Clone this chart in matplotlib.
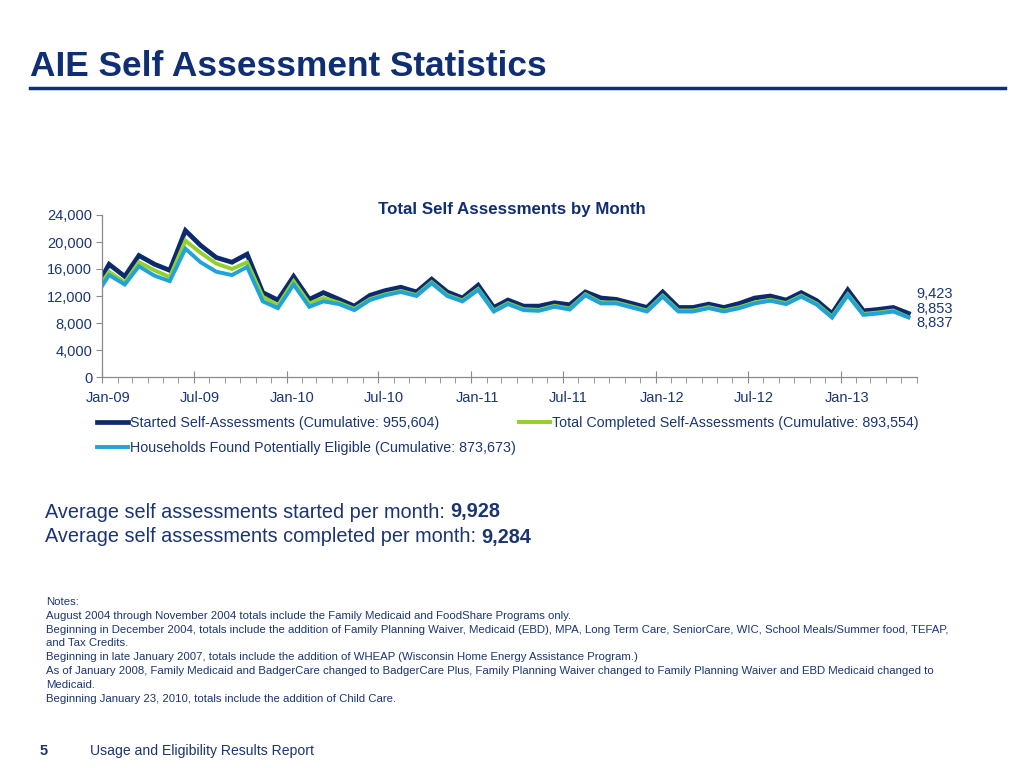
import numpy as np
import pandas as pd
import matplotlib
matplotlib.use("Agg")
import matplotlib.pyplot as plt
import matplotlib.dates as mdates
import matplotlib.transforms as mtransforms
from matplotlib.ticker import FuncFormatter, MultipleLocator

plt.rcParams['font.family'] = ['Liberation Sans', 'DejaVu Sans']

# monthly totals, Dec-08 .. May-13 (Dec-08 is clipped by the axis start)
months = pd.date_range('2008-12-01', '2013-05-01', freq='MS') + pd.Timedelta(days=14)
started = [12500, 16700, 14900, 18000, 16700, 15800, 21700, 19500, 17700, 17000, 18200, 12500, 11400,
           14900, 11500, 12500, 11500, 10500, 12100, 12800, 13300, 12600, 14500, 12600, 11700,
           13600, 10300, 11400, 10500, 10500, 11000, 10700, 12600, 11700, 11500, 10900, 10300,
           12600, 10300, 10300, 10800, 10300, 10900, 11700, 12000, 11400, 12500, 11300, 9400,
           12900, 9800, 10000, 10300, 9423]
completed = [12000, 15600, 14000, 17000, 15800, 14800, 20200, 18400, 16800, 16000, 17000, 11900, 10600,
             14200, 10900, 11700, 11000, 10100, 11550, 12250, 12750, 12150, 14050, 12150, 11350,
             13050, 9850, 10950, 10050, 9950, 10550, 10150, 12250, 11050, 11050, 10450, 9850,
             12050, 9850, 9850, 10350, 9850, 10350, 11050, 11450, 10950, 12050, 10850, 8950,
             12250, 9350, 9550, 9850, 8853]
eligible = [11500, 15100, 13700, 16400, 15000, 14200, 19000, 17000, 15600, 15100, 16300, 11200, 10200,
            13700, 10400, 11200, 10800, 9900, 11400, 12100, 12600, 12000, 13900, 12000, 11200,
            12900, 9700, 10800, 9900, 9800, 10400, 10000, 12100, 10900, 10900, 10300, 9700,
            11900, 9700, 9700, 10200, 9700, 10200, 10900, 11300, 10800, 11900, 10700, 8800,
            12100, 9200, 9400, 9700, 8837]

labels = ['Started Self-Assessments (Cumulative: 955,604)',
          'Total Completed Self-Assessments (Cumulative: 893,554)',
          'Households Found Potentially Eligible (Cumulative: 873,673)']
colors = ['#0C2A6E', '#92D02A', '#1FA3D8']

avg_labels = ['Average self assessments started per month:', 'Average self assessments completed per month:']
avg_values = ['9,928', '9,284']

notes = [
    'Notes:',
    'August 2004 through November 2004 totals include the Family Medicaid and FoodShare Programs only.',
    'Beginning in December 2004, totals include the addition of Family Planning Waiver, Medicaid (EBD), MPA, Long Term Care, SeniorCare, WIC, School Meals/Summer food, TEFAP,',
    'and Tax Credits.',
    'Beginning in late January 2007, totals include the addition of WHEAP (Wisconsin Home Energy Assistance Program.)',
    'As of January 2008, Family Medicaid and BadgerCare changed to BadgerCare Plus, Family Planning Waiver changed to Family Planning Waiver and EBD Medicaid changed to',
    'Medicaid.',
    'Beginning January 23, 2010, totals include the addition of Child Care.',
]

navy = '#1B3573'
W, H = 1024, 768
fig = plt.figure(figsize=(W / 100, H / 100), dpi=100)

# page title and rule
fig.text(30 / W, 1 - 67 / H, 'AIE Self Assessment Statistics', fontsize=25.4, fontweight='bold',
         color='#0F2E74', va='center', ha='left')
fig.add_artist(plt.Line2D([30 / W, 1005 / W], [1 - 88 / H, 1 - 88 / H], color='#0F2E74', lw=2.5))

ax = fig.add_axes([102 / W, 1 - 377 / H, 815 / W, 162 / H])
l1, = ax.plot(months, started, color=colors[0], lw=3.4, solid_joinstyle='miter')
l2, = ax.plot(months, completed, color=colors[1], lw=2.8, solid_joinstyle='miter')
l3, = ax.plot(months, eligible, color=colors[2], lw=2.8, solid_joinstyle='miter')

ax.set_xlim(pd.Timestamp('2009-01-01'), pd.Timestamp('2013-06-01'))
ax.set_ylim(0, 24000)
ax.yaxis.set_major_locator(MultipleLocator(4000))
ax.yaxis.set_major_formatter(FuncFormatter(lambda v, p: f'{int(v):,}'))
ax.xaxis.set_major_locator(mdates.MonthLocator(bymonth=[1, 7]))
ax.xaxis.set_minor_locator(mdates.MonthLocator())
ax.xaxis.set_major_formatter(mdates.DateFormatter('%b-%y'))
for s in ['top', 'right']:
    ax.spines[s].set_visible(False)
for s in ['left', 'bottom']:
    ax.spines[s].set_color('#8A8A8A')
    ax.spines[s].set_linewidth(0.9)
ax.tick_params(axis='x', which='major', direction='inout', length=8, color='#8A8A8A',
               labelsize=10.5, labelcolor=navy, pad=6)
ax.tick_params(axis='x', which='minor', direction='out', length=4, color='#8A8A8A')
ax.tick_params(axis='y', direction='out', length=4, color='#8A8A8A', labelsize=10.5,
               labelcolor=navy, pad=3)
shift = mtransforms.ScaledTranslation(6 / 100, 0, fig.dpi_scale_trans)
for lab in ax.get_xticklabels():
    lab.set_transform(lab.get_transform() + shift)

ax.set_title('Total Self Assessments by Month', fontsize=12.2, fontweight='bold', color='#0F2E74',
             x=(512 - 102) / 815, pad=0, y=(377 - 214) / 162)

# end labels
end_offsets = [(6, 14), (6, 6), (6, -4)]
for series, off in zip([started, completed, eligible], end_offsets):
    ax.annotate(f'{series[-1]:,}', (months[-1], series[-1]), xytext=off, textcoords='offset points',
                fontsize=10.5, color=navy, ha='left', va='center')

fig.legend([l1, l3, l2], [labels[0], labels[2], labels[1]], ncol=2, loc='upper left',
           bbox_to_anchor=(97 / W, 1 - 416 / H), frameon=False, fontsize=10.3,
           labelcolor=navy, handlelength=2.2, handletextpad=0.12, columnspacing=0.2,
           labelspacing=0.75, borderaxespad=0, borderpad=0)

fig.canvas.draw()
r = fig.canvas.get_renderer()
for yy, label, val in zip([512, 537], avg_labels, avg_values):
    t = fig.text(45 / W, 1 - yy / H, label + ' ', fontsize=14.3, color=navy, va='center')
    w = t.get_window_extent(r).width
    fig.text((45 + w) / W, 1 - yy / H, val, fontsize=14.3, fontweight='bold', color=navy, va='center')

for k, line in enumerate(notes):
    fig.text(46 / W, 1 - (602 + 13.8 * k) / H, line, fontsize=8.2, color=navy, va='center')

fig.text(40 / W, 1 - 751 / H, '5', fontsize=10.5, fontweight='bold', color=navy, va='center')
fig.text(90 / W, 1 - 751 / H, 'Usage and Eligibility Results Report', fontsize=10.1, color=navy,
         va='center')

fig.savefig('out.png', dpi=100)
